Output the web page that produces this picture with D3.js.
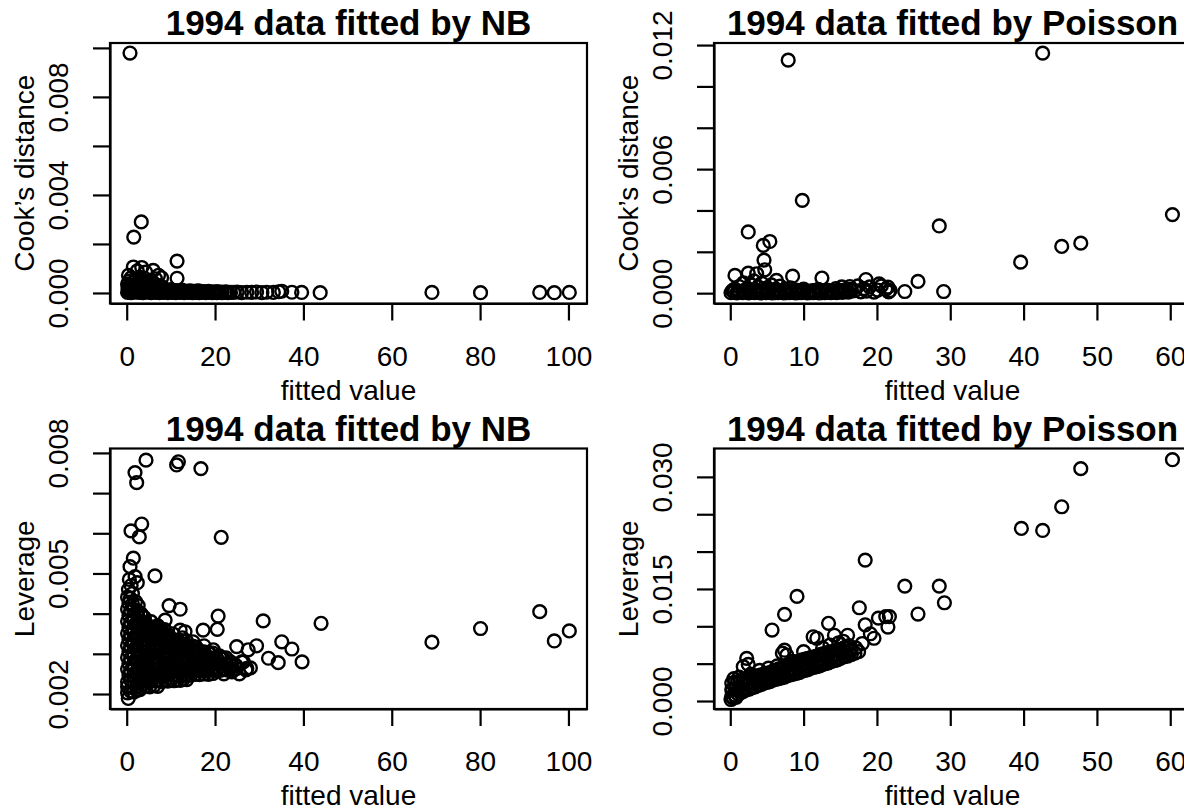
<!DOCTYPE html>
<html>
<head>
<meta charset="utf-8">
<script src="https://cdn.jsdelivr.net/npm/d3@7"></script>
<style>
  body { margin: 0; background: #fff; }
  svg { display: block; }
</style>
</head>
<body>
<div id="main"></div>
<script>
// fitted value vs Cook's distance, NB model
var nbCook = [
  [0.2,0.00002],[0.6,0.00006],[1.0,0.00001],[1.5,0.00008],[1.9,0.00003],[2.4,0.00010],[2.8,0.00002],[3.3,0.00007],
  [3.7,0.00001],[4.2,0.00009],[4.6,0.00003],[5.1,0.00006],[5.5,0.00001],[6.0,0.00008],[6.5,0.00002],[6.9,0.00005],
  [7.4,0.00001],[7.9,0.00006],[8.3,0.00002],[8.8,0.00004],[9.3,0.00001],[9.7,0.00005],[10.2,0.00002],[10.7,0.00004],
  [11.1,0.00001],[11.6,0.00003],[12.1,0.00002],[12.6,0.00004],[13.0,0.00001],[13.5,0.00003],[14.0,0.00002],[14.5,0.00004],
  [14.9,0.00001],[15.4,0.00003],[15.9,0.00002],[16.4,0.00001],[16.9,0.00003],[17.4,0.00002],[17.9,0.00001],[18.4,0.00003],
  [18.9,0.00002],[19.4,0.00001],[19.9,0.00002],[20.4,0.00001],[21.0,0.00002],[21.6,0.00001],[22.2,0.00002],[22.9,0.00001],
  [23.5,0.00002],
  [0.4,0.00012],[1.3,0.00016],[2.2,0.00011],[3.1,0.00015],[4.0,0.00012],[4.9,0.00016],[5.8,0.00011],[6.7,0.00014],
  [7.6,0.00010],[8.5,0.00013],[9.5,0.00009],[10.5,0.00011],[11.5,0.00008],[12.5,0.00010],[13.5,0.00007],[14.5,0.00009],
  [15.5,0.00006],[16.5,0.00008],[17.5,0.00006],[18.5,0.00007],[19.5,0.00005],[20.5,0.00006],[21.5,0.00004],[22.5,0.00005],
  [0.3,0.00018],[0.8,0.00032],[1.2,0.00014],[1.6,0.00045],[2.0,0.00025],[2.5,0.00038],[2.9,0.00016],[3.3,0.00050],
  [3.8,0.00028],[4.2,0.00042],[4.7,0.00020],[5.2,0.00033],[5.7,0.00014],[6.1,0.00040],[6.6,0.00024],[7.1,0.00016],
  [7.6,0.00030],[8.2,0.00020],[9.0,0.00012],[0.5,0.00048],[1.0,0.00062],[2.2,0.00056],[0.2,0.00036],[3.0,0.00064],
  [4.0,0.00060],[5.5,0.00052],[6.5,0.00058],[10.0,0.00014],[11.0,0.00010],[12.5,0.00012],[14.0,0.00008],[16.0,0.00009],
  [0.4,0.00072],[1.5,0.00106],[2.4,0.00090],[3.4,0.00104],[4.3,0.00085],[6.0,0.00092],[7.2,0.00072],[7.9,0.00062],
  [11.4,0.00130],[11.4,0.00060],[1.6,0.00228],[3.3,0.00290],[0.75,0.00979],
  [24.2,0.00002],[25.0,0.00004],[26.0,0.00001],[27.2,0.00003],[28.3,0.00002],[29.4,0.00004],[30.6,0.00001],[31.7,0.00003],
  [33.2,0.00002],[34.4,0.00005],[35.1,0.00007],[37.4,0.00003],[39.6,0.00002],[43.8,0.00001],
  [69.1,0.00002],[80.1,0.00001],[93.5,0.00002],[96.8,0.00001],[100.2,0.00002]
];

// fitted value vs Cook's distance, Poisson model
var poisCook = [
  [0.1,0.00002],[0.5,0.00005],[0.9,0.00001],[1.3,0.00004],[1.7,0.00002],[2.1,0.00006],[2.5,0.00001],[2.9,0.00004],
  [3.3,0.00002],[3.7,0.00005],[4.1,0.00001],[4.5,0.00004],[4.9,0.00002],[5.3,0.00005],[5.7,0.00001],[6.1,0.00003],
  [6.5,0.00002],[6.9,0.00004],[7.3,0.00001],[7.7,0.00003],[8.1,0.00002],[8.5,0.00004],[8.9,0.00001],[9.3,0.00003],
  [9.7,0.00002],[10.1,0.00004],[10.5,0.00001],[10.9,0.00003],[11.3,0.00002],[11.7,0.00004],[12.1,0.00001],[12.5,0.00003],
  [12.9,0.00002],[13.3,0.00004],[13.7,0.00002],[14.1,0.00005],[14.5,0.00003],[14.9,0.00006],[15.3,0.00004],[15.7,0.00008],
  [16.1,0.00005],[16.5,0.00010],
  [0.3,0.00012],[1.1,0.00010],[1.9,0.00014],[2.7,0.00011],[3.5,0.00013],[4.3,0.00010],[5.1,0.00014],[5.9,0.00011],
  [6.7,0.00012],[7.5,0.00010],[8.3,0.00013],[9.1,0.00010],[9.9,0.00012],[10.7,0.00009],[11.5,0.00011],[12.3,0.00009],
  [13.1,0.00012],[13.9,0.00010],[14.7,0.00013],[15.5,0.00015],[16.3,0.00018],
  [0.6,0.00020],[1.2,0.00032],[1.8,0.00050],[2.4,0.00022],[2.8,0.00042],[3.2,0.00060],[3.8,0.00030],[4.3,0.00048],
  [5.0,0.00026],[5.6,0.00040],[6.2,0.00020],[6.8,0.00034],[7.5,0.00018],[8.2,0.00026],[9.0,0.00015],[10.0,0.00020],
  [11.2,0.00012],[12.0,0.00018],[13.2,0.00015],[14.4,0.00022],[15.2,0.00030],[16.3,0.00032],[17.0,0.00012],[17.4,0.00035],
  [17.8,0.00006],[18.2,0.00022],[18.6,0.00010],[19.0,0.00030],[19.6,0.00005],[20.1,0.00015],[20.6,0.00035],[21.2,0.00020],
  [21.6,0.00006],[21.8,0.00013],
  [0.64,0.00086],[2.45,0.00097],[3.6,0.00094],[4.7,0.00113],[4.6,0.00160],[4.5,0.00231],[5.4,0.00250],[2.45,0.00296],
  [6.3,0.00062],[8.5,0.00082],[12.5,0.00073],[9.82,0.00449],[7.9,0.01127],[18.5,0.00066],[20.3,0.00045],[21.5,0.00029],
  [23.8,0.00008],[25.6,0.00057],[29.1,0.00008],[28.5,0.00325],[39.6,0.00150],[42.6,0.01161],[45.2,0.00226],[47.8,0.00242],
  [60.3,0.00380]
];

// fitted value vs leverage, NB model
var nbLev = [
  [0.2,0.00203],[0.9,0.00207],[1.6,0.00205],[2.3,0.00209],[3.0,0.00211],
  [0.2,0.00218],[1.2,0.00216],[2.2,0.00219],[3.2,0.00217],[4.2,0.00220],[5.2,0.00218],[6.2,0.00221],[7.0,0.00219],
  [0.2,0.00230],[0.9,0.00234],[1.6,0.00231],[2.3,0.00235],[3.0,0.00230],[3.7,0.00233],[4.4,0.00236],[5.1,0.00231],
  [5.8,0.00234],[6.5,0.00232],[7.2,0.00235],[7.9,0.00231],[8.6,0.00234],[9.3,0.00232],[10.0,0.00236],[10.7,0.00233],
  [11.4,0.00235],[12.1,0.00234],[12.8,0.00237],[13.6,0.00236],
  [0.5,0.00247],[1.5,0.00245],[2.5,0.00248],[3.5,0.00246],[4.5,0.00249],[5.5,0.00245],[6.5,0.00247],[7.5,0.00248],
  [8.5,0.00246],[9.5,0.00249],[10.5,0.00247],[11.5,0.00248],[12.5,0.00246],[13.5,0.00249],[14.5,0.00247],[15.5,0.00249],
  [16.5,0.00248],[17.5,0.00250],[18.5,0.00249],[19.5,0.00251],
  [0.2,0.00262],[0.9,0.00258],[1.6,0.00261],[2.3,0.00257],[3.0,0.00263],[3.7,0.00259],[4.4,0.00261],[5.1,0.00258],
  [5.8,0.00262],[6.5,0.00259],[7.2,0.00261],[7.9,0.00258],[8.6,0.00262],[9.3,0.00260],[10.0,0.00257],[10.7,0.00261],
  [11.4,0.00259],[12.1,0.00262],[12.8,0.00258],[13.5,0.00261],[14.2,0.00259],[14.9,0.00262],[15.6,0.00260],[16.3,0.00258],
  [17.0,0.00261],[17.7,0.00259],[18.4,0.00262],[19.1,0.00260],[19.8,0.00258],[20.5,0.00261],[21.2,0.00259],[21.9,0.00262],
  [22.6,0.00260],[23.3,0.00262],[24.0,0.00261],[24.8,0.00263],
  [0.5,0.00276],[1.5,0.00274],[2.5,0.00277],[3.5,0.00275],[4.5,0.00278],[5.5,0.00274],[6.5,0.00276],[7.5,0.00277],
  [8.5,0.00275],[9.5,0.00278],[10.5,0.00274],[11.5,0.00276],[12.5,0.00277],[13.5,0.00275],[14.5,0.00276],[15.5,0.00274],
  [16.5,0.00277],[17.5,0.00275],[18.5,0.00276],[19.5,0.00274],[20.5,0.00276],[21.5,0.00275],[22.5,0.00274],[23.5,0.00273],
  [24.5,0.00272],
  [0.2,0.00291],[0.9,0.00288],[1.6,0.00292],[2.3,0.00289],[3.0,0.00291],[3.7,0.00287],[4.4,0.00290],[5.1,0.00292],
  [5.8,0.00288],[6.5,0.00291],[7.2,0.00289],[7.9,0.00292],[8.6,0.00288],[9.3,0.00290],[10.0,0.00292],[10.7,0.00289],
  [11.4,0.00291],[12.1,0.00288],[12.8,0.00290],[13.5,0.00292],[14.2,0.00289],[14.9,0.00291],[15.6,0.00288],[16.3,0.00290],
  [17.0,0.00289],[17.7,0.00291],[18.4,0.00288],[19.1,0.00290],[19.8,0.00289],[20.5,0.00287],[21.2,0.00289],[21.9,0.00288],
  [0.5,0.00306],[1.5,0.00304],[2.5,0.00307],[3.5,0.00305],[4.5,0.00306],[5.5,0.00304],[6.5,0.00307],[7.5,0.00305],
  [8.5,0.00306],[9.5,0.00304],[10.5,0.00307],[11.5,0.00305],[12.5,0.00306],[13.5,0.00304],[14.5,0.00306],[15.5,0.00305],
  [16.5,0.00304],[17.5,0.00305],[18.5,0.00303],[19.5,0.00302],
  [0.2,0.00321],[0.9,0.00318],[1.6,0.00322],[2.3,0.00319],[3.0,0.00321],[3.7,0.00318],[4.4,0.00320],[5.1,0.00322],
  [5.8,0.00319],[6.5,0.00321],[7.2,0.00318],[7.9,0.00320],[8.6,0.00322],[9.3,0.00319],[10.0,0.00321],[10.7,0.00318],
  [11.4,0.00320],[12.1,0.00319],[12.8,0.00321],[13.5,0.00318],[14.2,0.00320],[14.9,0.00319],[15.7,0.00317],
  [0.5,0.00336],[1.5,0.00334],[2.5,0.00337],[3.5,0.00335],[4.5,0.00336],[5.5,0.00334],[6.5,0.00337],[7.5,0.00335],
  [8.5,0.00336],[9.5,0.00334],[10.5,0.00335],[11.5,0.00334],[12.5,0.00333],[13.5,0.00332],
  [0.2,0.00351],[0.9,0.00348],[1.6,0.00352],[2.3,0.00349],[3.0,0.00351],[3.7,0.00348],[4.4,0.00350],[5.1,0.00352],
  [5.8,0.00349],[6.5,0.00351],[7.2,0.00348],[7.9,0.00350],[8.6,0.00349],[9.4,0.00347],
  [0.5,0.00366],[1.5,0.00364],[2.5,0.00367],[3.5,0.00365],[4.5,0.00366],[5.5,0.00364],[6.5,0.00365],[7.5,0.00363],
  [0.2,0.00381],[0.9,0.00378],[1.6,0.00382],[2.3,0.00379],[3.0,0.00381],[3.7,0.00378],[4.3,0.00377],
  [0.5,0.00396],[1.5,0.00394],[2.5,0.00397],[3.5,0.00395],
  [0.2,0.00411],[0.9,0.00408],[1.6,0.00410],[2.4,0.00407],
  [0.5,0.00426],[1.3,0.00424],
  [0.2,0.00441],[0.8,0.00438],
  [0.4,0.00460],[1.0,0.00470],[0.6,0.00485],[1.3,0.00450],[2.0,0.00430],[2.6,0.00420],[3.2,0.00400],[4.0,0.00390],
  [4.8,0.00370],[5.5,0.00380],[6.2,0.00360],[7.0,0.00370],[7.8,0.00350],[8.6,0.00360],[9.5,0.00340],[10.4,0.00350],
  [11.5,0.00330],[12.6,0.00340],[13.8,0.00320],[15.0,0.00330],[16.2,0.00310],[17.5,0.00320],[18.8,0.00300],[19.6,0.00310],
  [21.0,0.00295],[22.5,0.00290],[23.5,0.00280],[24.8,0.00270],[26.0,0.00280],[27.0,0.00260],[28.0,0.00265],[25.5,0.00250],
  [22.0,0.00250],[23.8,0.00255],
  [0.75,0.00517],[1.5,0.00538],[1.9,0.00492],[2.4,0.00477],[6.4,0.00494],[0.97,0.00606],[3.4,0.00623],[2.85,0.00591],
  [21.4,0.00590],[4.37,0.00782],[1.88,0.00751],[2.26,0.00726],[11.3,0.00770],[11.7,0.00778],[16.8,0.00761],[0.36,0.00189],
  [9.6,0.00420],[12.1,0.00411],[20.7,0.00394],[20.5,0.00361],[8.7,0.00384],[12.1,0.00359],[13.2,0.00355],[17.3,0.00359],
  [24.9,0.00318],[27.5,0.00310],[29.4,0.00320],[26.4,0.00280],[27.2,0.00264],[30.9,0.00382],[35.1,0.00330],[37.4,0.00312],
  [32.1,0.00289],[34.3,0.00278],[39.7,0.00280],[44.0,0.00376],
  [69.1,0.00329],[80.1,0.00363],[93.5,0.00405],[96.8,0.00332],[100.2,0.00357]
];

// fitted value vs leverage, Poisson model
var poisLev = [
  [0.2,0.0006],[0.6,0.0008],[1.0,0.0010],[1.4,0.0011],[1.8,0.0013],[2.2,0.0015],[2.6,0.0016],[3.0,0.0018],
  [3.4,0.0019],[3.8,0.0021],[4.2,0.0022],[4.6,0.0024],[5.0,0.0025],[5.4,0.0026],[5.8,0.0028],[6.2,0.0029],
  [6.6,0.0030],[7.0,0.0031],[7.4,0.0032],[7.8,0.0034],[8.2,0.0035],[8.6,0.0036],[9.0,0.0037],[9.4,0.0038],
  [9.8,0.0040],[10.2,0.0041],[10.6,0.0042],[11.0,0.0044],[11.4,0.0045],[11.8,0.0046],[12.2,0.0047],[12.6,0.0049],
  [13.0,0.0050],[13.4,0.0051],[13.8,0.0053],[14.2,0.0054],[14.6,0.0055],[15.0,0.0057],[15.5,0.0059],[16.0,0.0060],
  [16.5,0.0062],[17.0,0.0064],[17.5,0.0066],
  [0.2,0.0015],[0.7,0.0017],[1.2,0.0019],[1.7,0.0021],[2.2,0.0022],[2.7,0.0024],[3.2,0.0025],[3.7,0.0027],
  [4.2,0.0029],[4.7,0.0030],[5.2,0.0032],[5.7,0.0034],[6.2,0.0035],[6.7,0.0037],[7.2,0.0038],[7.7,0.0040],
  [8.2,0.0042],[8.7,0.0043],[9.2,0.0045],[9.7,0.0047],[10.2,0.0049],[10.7,0.0050],[11.2,0.0051],[11.7,0.0053],
  [12.2,0.0055],[12.7,0.0056],[13.2,0.0058],[13.7,0.0059],[14.2,0.0061],[14.7,0.0062],[15.2,0.0064],[15.7,0.0065],
  [16.2,0.0067],
  [0.2,0.0024],[0.6,0.0025],[1.0,0.0026],[1.4,0.0027],[1.8,0.0028],[2.2,0.0029],[2.6,0.0030],[3.0,0.0031],
  [3.4,0.0032],[3.8,0.0034],[4.2,0.0035],[4.6,0.0036],[5.0,0.0037],[5.4,0.0038],[5.8,0.0040],[6.2,0.0041],
  [6.6,0.0043],[7.0,0.0044],[7.4,0.0046],[7.8,0.0047],[8.2,0.0049],[8.6,0.0050],[9.0,0.0052],[9.4,0.0053],
  [9.8,0.0055],[10.2,0.0056],[10.6,0.0057],[11.0,0.0058],[11.4,0.0059],[11.8,0.0060],[12.2,0.0062],[12.6,0.0063],
  [13.0,0.0064],[13.4,0.0065],[13.8,0.0066],[14.2,0.0067],[14.6,0.0068],[15.0,0.0069],[15.5,0.0071],
  [0.1,0.0002],[0.4,0.0004],[0.8,0.0005],[0.3,0.0015],[0.5,0.0030],[1.2,0.0032],[1.77,0.00459],[2.24,0.00571],
  [2.45,0.0049],[2.8,0.0036],[4.0,0.0041],[5.2,0.0044],[6.4,0.0047],[7.1,0.0064],[7.4,0.0068],[7.7,0.00615],
  [8.5,0.0053],[10.0,0.0066],[11.3,0.0086],[11.8,0.0084],[12.6,0.0071],[13.4,0.0104],[13.6,0.0075],[14.2,0.0088],
  [14.8,0.0078],[15.4,0.0080],[16.0,0.0088],[16.5,0.0068],[16.2,0.0074],[17.1,0.0071],[18.0,0.0077],[18.4,0.0102],
  [19.1,0.0090],[19.6,0.0084],[21.5,0.0099],[20.2,0.0111],[21.2,0.0113],[21.7,0.0113],[17.6,0.01248],[18.4,0.01886],
  [5.7,0.0095],[7.4,0.0116],[9.1,0.0140],[23.8,0.01538],[28.5,0.01538],[29.2,0.01315],[25.6,0.01164],
  [39.7,0.0231],[42.6,0.02283],[45.2,0.0260],[47.8,0.0311],[60.3,0.0323]
];

// axis ticks and labels
var nbXTicks = [0, 20, 40, 60, 80, 100];
var poisXTicks = [0, 10, 20, 30, 40, 50, 60];
var nbCookTicks = [0, 0.002, 0.004, 0.006, 0.008, 0.010];
var nbCookLabels = ["0.000", "0.004", "0.008"];
var poisCookTicks = [0, 0.002, 0.004, 0.006, 0.008, 0.010, 0.012];
var poisCookLabels = ["0.000", "0.006", "0.012"];
var nbLevTicks = [0.002, 0.003, 0.004, 0.005, 0.006, 0.007, 0.008];
var nbLevLabels = ["0.002", "0.005", "0.008"];
var poisLevTicks = [0, 0.005, 0.010, 0.015, 0.020, 0.025, 0.030];
var poisLevLabels = ["0.000", "0.015", "0.030"];

var titles = ["1994 data fitted by NB", "1994 data fitted by Poisson"];
var xTitle = "fitted value";
var yTitles = ["Cook\u2019s distance", "Leverage"];

var font = "'Liberation Sans', Arial, Helvetica, sans-serif";

var svg = d3.select("#main")
  .append("svg")
  .attr("width", 1184)
  .attr("height", 810);

svg.append("rect").attr("width", 1184).attr("height", 810).attr("fill", "#fff");

var panels = [
  { data: nbCook, left: 110, top: 43, xd: [-3.78, 104.2], yd: [-0.00043, 0.0102],
    xt: nbXTicks, yt: nbCookTicks, yl: nbCookLabels, title: titles[0], ytitle: yTitles[0] },
  { data: poisCook, left: 714, top: 43, xd: [-2.22, 62.83], yd: [-0.0005, 0.0121],
    xt: poisXTicks, yt: poisCookTicks, yl: poisCookLabels, title: titles[1], ytitle: yTitles[0] },
  { data: nbLev, left: 110, top: 448.5, xd: [-3.78, 104.2], yd: [0.001627, 0.00811],
    xt: nbXTicks, yt: nbLevTicks, yl: nbLevLabels, title: titles[0], ytitle: yTitles[1] },
  { data: poisLev, left: 714, top: 448.5, xd: [-2.22, 62.83], yd: [-0.00107, 0.0338],
    xt: poisXTicks, yt: poisLevTicks, yl: poisLevLabels, title: titles[1], ytitle: yTitles[1] }
];

var pw = 477, ph = 260.5;
var fmt = d3.format(".3f");

panels.forEach(function(p) {
  var g = svg.append("g");
  var x = d3.scaleLinear().domain(p.xd).range([p.left, p.left + pw]);
  var y = d3.scaleLinear().domain(p.yd).range([p.top + ph, p.top]);
  var cx = p.left + pw / 2, cy = p.top + ph / 2;

  // points (open circles, like pch = 1)
  g.append("g")
    .selectAll("circle")
    .data(p.data)
    .join("circle")
    .attr("cx", d => x(d[0]))
    .attr("cy", d => y(d[1]))
    .attr("r", 6.4)
    .attr("fill", "none")
    .attr("stroke", "#000")
    .attr("stroke-width", 2.4);

  var xa = g.append("g")
    .attr("transform", "translate(0," + (p.top + ph) + ")")
    .call(d3.axisBottom(x).tickValues(p.xt).tickSize(17).tickSizeOuter(0).tickFormat(d3.format("d")));
  var ya = g.append("g")
    .attr("transform", "translate(" + p.left + ",0)")
    .call(d3.axisLeft(y).tickValues(p.yt).tickSize(17).tickSizeOuter(0)
      .tickFormat(d => p.yl.indexOf(fmt(d)) >= 0 ? fmt(d) : ""));

  [xa, ya].forEach(function(a) {
    a.attr("font-size", 28).attr("font-family", font);
    a.selectAll("line, path").attr("stroke", "#000").attr("stroke-width", 2.2);
    a.selectAll("text").attr("fill", "#000");
  });
  xa.selectAll("text").attr("y", 62).attr("dy", null);
  ya.selectAll("text")
    .attr("transform", "rotate(-90)")
    .attr("x", 0)
    .attr("y", -42)
    .attr("dy", null)
    .attr("text-anchor", "middle");

  g.append("rect")
    .attr("x", p.left).attr("y", p.top)
    .attr("width", pw).attr("height", ph)
    .attr("fill", "none").attr("stroke", "#000").attr("stroke-width", 2.2);

  g.append("text")
    .attr("x", cx).attr("y", p.top - 8)
    .attr("text-anchor", "middle")
    .attr("font-family", font).attr("font-weight", "bold").attr("font-size", 35)
    .text(p.title);
  g.append("text")
    .attr("x", cx).attr("y", p.top + ph + 96)
    .attr("text-anchor", "middle")
    .attr("font-family", font).attr("font-size", 28)
    .text(xTitle);
  g.append("text")
    .attr("transform", "translate(" + (p.left - 76) + "," + cy + ") rotate(-90)")
    .attr("text-anchor", "middle")
    .attr("font-family", font).attr("font-size", 28)
    .text(p.ytitle);
});
</script>
</body>
</html>
